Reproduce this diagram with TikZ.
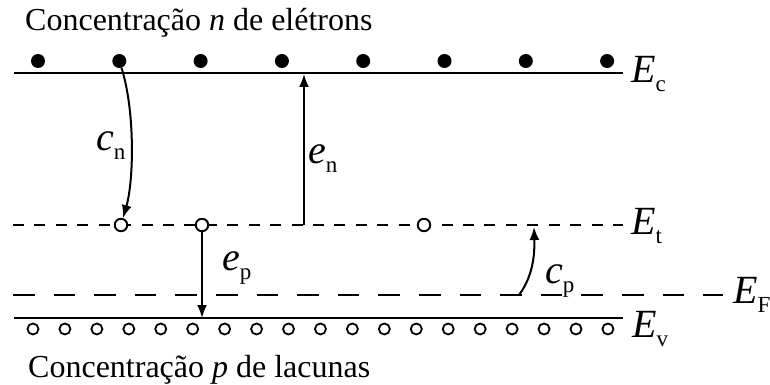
\documentclass[tikz,border=0pt]{standalone}
\usepackage{fontspec}
\setmainfont{Liberation Serif}
\usetikzlibrary{arrows.meta}
\newcommand{\lblsub}[1]{\raisebox{-9pt}{\fontsize{23}{23}\selectfont\upshape #1}}
\begin{document}
\begin{tikzpicture}[x=1pt,y=-1pt,
  level/.style={line width=2.1pt},
  trapline/.style={line width=2.1pt, dash pattern=on 11pt off 10.43pt},
  fermi/.style={line width=2.1pt, dash pattern=on 21.5pt off 19.1pt},
  electron/.style={circle, fill=black, minimum size=14pt, inner sep=0pt},
  trap/.style={circle, draw=black, fill=white, line width=1.9pt, minimum size=12.5pt, inner sep=0pt},
  hole/.style={circle, draw=black, fill=white, line width=1.8pt, minimum size=11pt, inner sep=0pt},
  arr/.style={line width=2pt, -{Latex[length=13pt,width=10pt]}},
  big/.style={font=\fontsize{40}{42}\selectfont\itshape, inner sep=0pt, anchor=base west},
  title/.style={font=\fontsize{32}{36}\selectfont, inner sep=0pt, anchor=base west},
]
\useasboundingbox (0,0) rectangle (770,385);

% texts
\node[title] (top) at (25,30.5) {Concentração \textit{n} de elétrons};
\node[title] (bot) at (28,377) {Concentração \textit{p} de lacunas};

% levels
\coordinate (ecL) at (14,73);  \coordinate (ecR) at (623,73);
\coordinate (etL) at (13,225); \coordinate (etR) at (623,225);
\coordinate (efL) at (13,295); \coordinate (efR) at (723,295);
\coordinate (evL) at (14,318); \coordinate (evR) at (623,318);
\draw[level] (ecL) -- (ecR);
\draw[trapline] (etL) -- (etR);
\draw[fermi] (efL) -- (efR);
\draw[level] (evL) -- (evR);

% electrons
\foreach \i in {0,...,7} {
  \node[electron] (e\i) at ({38+81.3*\i},61) {};
}
% holes
\foreach \i in {0,...,18} {
  \node[hole] (h\i) at ({33+31.94*\i},329) {};
}
% traps
\node[trap] (t1) at (121,225) {};
\node[trap] (t2) at (202,225) {};
\node[trap] (t3) at (424,225) {};

% arrows
\draw[arr] (e1) .. controls (135,110) and (134,180) .. (t1);
\coordinate (enS) at (304,225); \coordinate (enE) at (304,74);
\draw[arr] (enS) -- (enE);
\coordinate (epE) at (202,318);
\draw[arr] (t2) -- (epE);
\coordinate (cpS) at (519,295); \coordinate (cpE) at (534,227);
\draw[arr] (cpS) .. controls (530,280) and (535,262) .. (cpE);

% labels
\node[big] (lcn) at (96,150) {c\lblsub{n}};
\node[big] (len) at (308,163) {e\lblsub{n}};
\node[big] (lep) at (222,270) {e\lblsub{p}};
\node[big] (lcp) at (545,283) {c\lblsub{p}};
\node[big] (lEc) at (631,83) {E\lblsub{c}};
\node[big] (lEt) at (631,234) {E\lblsub{t}};
\node[big] (lEF) at (733,303) {E\lblsub{F}};
\node[big] (lEv) at (632,337) {E\lblsub{v}};
\end{tikzpicture}
\end{document}
